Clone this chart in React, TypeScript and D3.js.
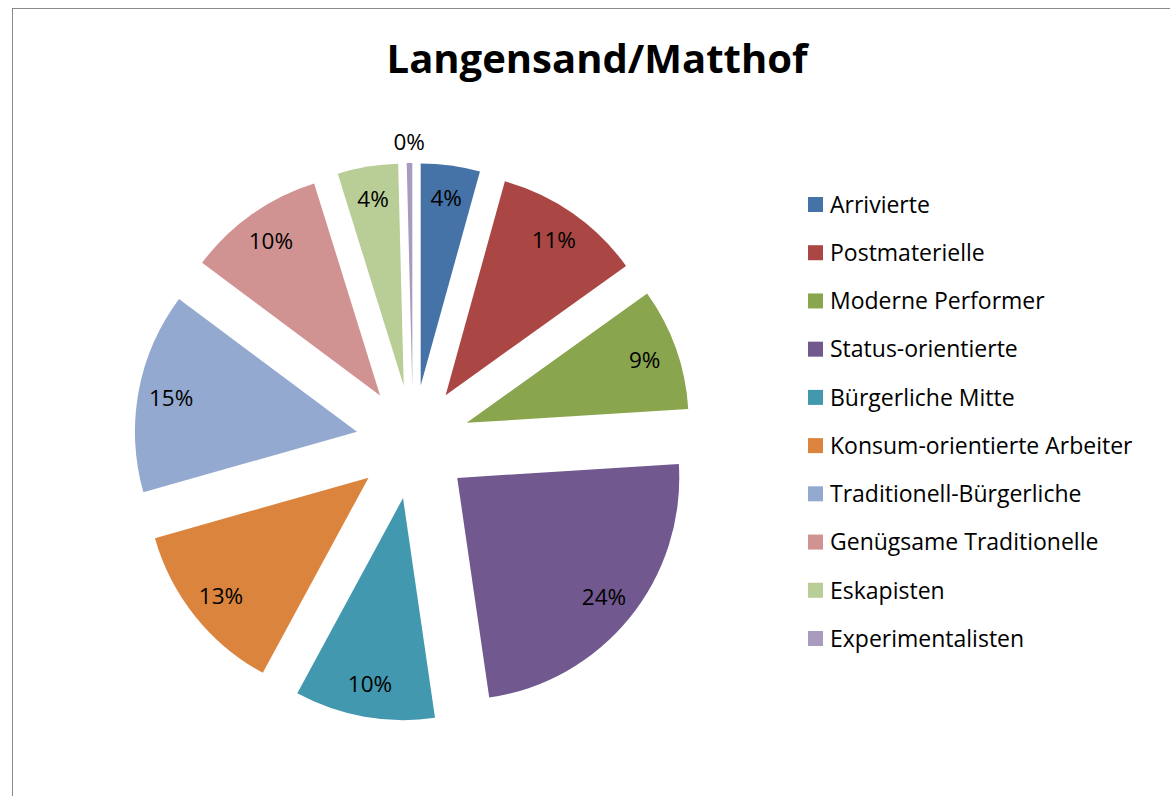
import React from "react";
import * as d3 from "d3";

const categories = [
  "Arrivierte",
  "Postmaterielle",
  "Moderne Performer",
  "Status-orientierte",
  "Bürgerliche Mitte",
  "Konsum-orientierte Arbeiter",
  "Traditionell-Bürgerliche",
  "Genügsame Traditionelle",
  "Eskapisten",
  "Experimentalisten",
];
const values = [4.3, 10.8, 8.9, 23.7, 10.2, 12.7, 14.6, 10.0, 4.4, 0.4];
const colors = [
  "#4572A7",
  "#AA4643",
  "#89A54E",
  "#71588F",
  "#4198AF",
  "#DB843D",
  "#93A9CF",
  "#D19392",
  "#B9CD96",
  "#A99BBD",
];
const title = "Langensand/Matthof";

const W = 1170;
const H = 796;
const cx = 413;
const cy = 442;
const R = 222;
const explode = 57;
const labelR = 189;
const FONT = "'Open Sans', Lato, sans-serif";

export default function App() {
  const total = d3.sum(values);
  const pie = d3
    .pie<number>()
    .sort(null)
    .value((d) => d)
    .startAngle(0)
    .endAngle(2 * Math.PI);
  const arcs = pie(values);
  const arc = d3.arc<d3.PieArcDatum<number>>().innerRadius(0).outerRadius(R);
  const fmt = (v: number) => `${Math.round((v / total) * 100)}%`;

  const legendY = d3
    .scalePoint<string>()
    .domain(categories)
    .range([204.5, 638.5]);

  return (
    <svg
      width={W}
      height={H}
      style={{ position: "absolute", left: 0, top: 0, background: "#fff" }}
    >
      <rect x={0} y={0} width={W} height={H} fill="#fff" />
      <rect
        x={12.5}
        y={8.5}
        width={W + 20}
        height={H + 20}
        fill="none"
        stroke="#898989"
        strokeWidth={1}
      />
      <text
        x={597}
        y={73}
        textAnchor="middle"
        fontFamily={FONT}
        fontWeight="bold"
        fontSize={40}
        fill="#000"
      >
        {title}
      </text>
      <g>
        {arcs.map((a, i) => {
          const mid = (a.startAngle + a.endAngle) / 2;
          const ox = cx + explode * Math.sin(mid);
          const oy = cy - explode * Math.cos(mid);
          const small = values[i] / total < 0.01;
          const lr = small ? R + 21 : labelR;
          const lx = lr * Math.sin(mid);
          const ly = -lr * Math.cos(mid);
          return (
            <g key={categories[i]} transform={`translate(${ox},${oy})`}>
              <path d={arc(a) || ""} fill={colors[i]} />
              <text
                x={lx}
                y={ly}
                dy="0.36em"
                textAnchor="middle"
                fontFamily={FONT}
                fontSize={22.5}
                fill="#000"
              >
                {fmt(values[i])}
              </text>
            </g>
          );
        })}
      </g>
      <g>
        {categories.map((c, i) => {
          const y = legendY(c) as number;
          return (
            <g key={c}>
              <rect x={808} y={y - 7.5} width={15} height={15} fill={colors[i]} />
              <text
                x={830}
                y={y}
                dy="0.36em"
                fontFamily={FONT}
                fontSize={23}
                fill="#000"
              >
                {c}
              </text>
            </g>
          );
        })}
      </g>
    </svg>
  );
}
